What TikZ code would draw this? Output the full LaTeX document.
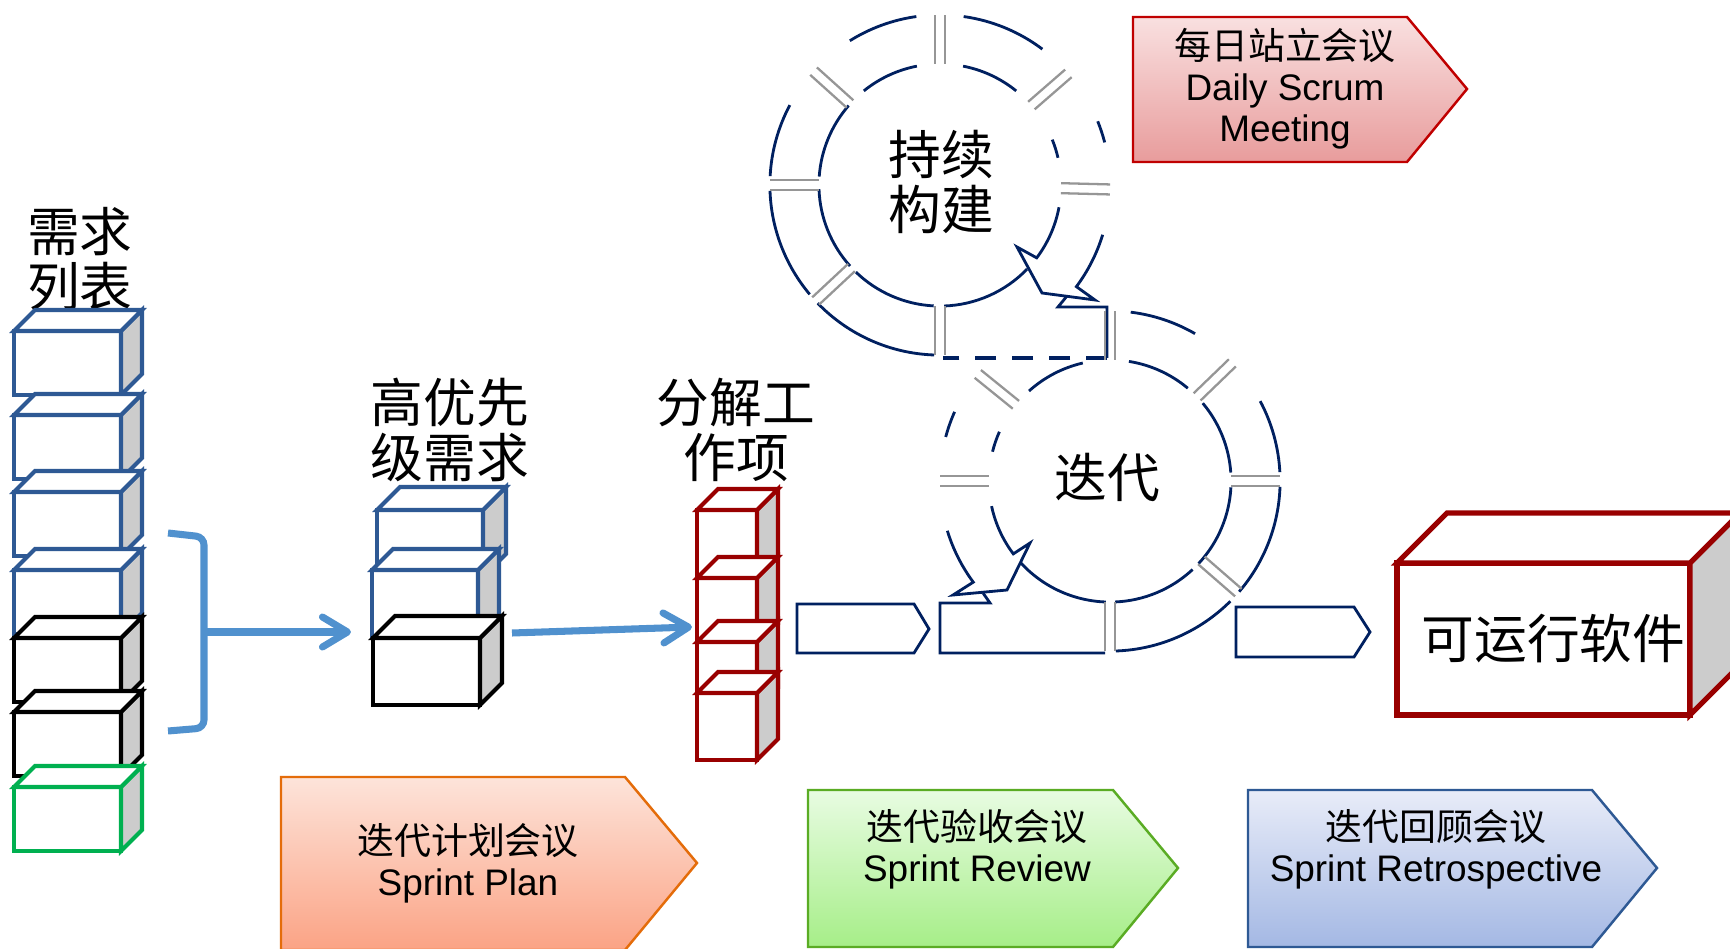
\documentclass[tikz,border=0pt]{standalone}
\usepackage{fontspec}
\setmainfont{Liberation Sans}
\newfontfamily\cjk{Noto Sans CJK SC}
\usetikzlibrary{arrows.meta, calc}

% barvy
\definecolor{namodra}{RGB}{0,32,96}
\definecolor{seda}{RGB}{150,150,150}
\definecolor{bok}{RGB}{204,204,204}
\definecolor{kvmodra}{RGB}{46,89,148}
\definecolor{kvzelena}{RGB}{0,176,80}
\definecolor{kvcervena}{RGB}{153,0,0}
\definecolor{sipkamodra}{RGB}{80,145,206}

% kvadr: jmeno, styl, roh, sirka, vyska, hloubka
\newcommand{\kvadr}[6]{%
  \node[celo, #2, minimum width=#4*0.01cm, minimum height=#5*0.01cm,
        anchor=north west] (#1) at #3 {};
  \draw[#2, fill=bok] (#1.north east) -- ++(#6,#6) -- ++(0,-#5)
        -- (#1.south east) -- cycle;
  \draw[#2, fill=white] (#1.north west) -- ++(#6,#6) -- ++(#4,0)
        -- (#1.north east) -- cycle;
}

% delici cara v kruhu: stred, uhel
\newcommand{\delic}[2]{%
  \draw[delka] (#1) ++(#2:1.21cm) ++(#2+90:0.05cm) -- ++(#2:0.49cm);
  \draw[delka] (#1) ++(#2:1.21cm) ++(#2-90:0.05cm) -- ++(#2:0.49cm);
}

\begin{document}
\begin{tikzpicture}[
    x=0.01cm, y=0.01cm,
    modry/.style={draw=kvmodra, line width=1.15pt},
    cerny/.style={draw=black, line width=1.15pt},
    zeleny/.style={draw=kvzelena, line width=1.15pt},
    cerveny/.style={draw=kvcervena, line width=1.15pt},
    velkycerveny/.style={draw=kvcervena, line width=1.45pt},
    celo/.style={rectangle, fill=white, inner sep=0pt, outer sep=0pt},
    popis/.style={font=\cjk\fontsize{15}{15.8}\selectfont,
                  align=center, inner sep=0pt},
    kruh/.style={draw=namodra, line width=0.8pt},
    delka/.style={draw=seda, line width=0.65pt},
    sipka/.style={draw=sipkamodra, line width=2pt,
                  -{Straight Barb[length=0.25cm, width=0.3cm, round]}},
    banner/.style={line width=0.7pt},
    bannertext/.style={font=\fontsize{10.5}{11.6}\selectfont,
                       align=center, inner sep=0pt},
]

\fill[white] (0,0) rectangle (1730,-949);
\useasboundingbox (0,0) rectangle (1730,-949);

% 需求列表
\node[popis] (xuqiu) at (80,-259) {需求\\列表};
\kvadr{xq1}{modry}{(14,-331)}{107}{64}{21}
\kvadr{xq2}{modry}{(14,-415)}{107}{64}{21}
\kvadr{xq3}{modry}{(14,-492)}{107}{64}{21}
\kvadr{xq4}{modry}{(14,-570)}{107}{64}{21}
\kvadr{xq5}{cerny}{(14,-638)}{107}{64}{21}
\kvadr{xq6}{cerny}{(14,-712)}{107}{64}{21}
\kvadr{xq7}{zeleny}{(14,-787)}{107}{64}{21}

% 高优先级需求
\node[popis] (youxian) at (450,-430) {高优先\\级需求};
\kvadr{yx1}{modry}{(377,-510)}{106}{67}{23}
\kvadr{yx2}{modry}{(372,-570)}{106}{67}{21}
\kvadr{yx3}{cerny}{(373,-638)}{107}{67}{22}

% 分解工作项
\node[popis] (fenjie) at (736,-430) {分解工\\作项};
\kvadr{fj1}{cerveny}{(697,-510)}{60}{67}{21}
\kvadr{fj2}{cerveny}{(697,-578)}{60}{67}{21}
\kvadr{fj3}{cerveny}{(697,-642)}{60}{67}{21}
\kvadr{fj4}{cerveny}{(697,-693)}{60}{67}{21}

% 可运行软件
\kvadr{ruanjian}{velkycerveny}{(1397,-563)}{293}{152}{50}
\node[popis] (ruanjiantext) at ([xshift=0.1cm]ruanjian.center) {可运行软件};

% zavorka a sipky
\draw[sipkamodra, line width=2pt, rounded corners=0.08cm]
    (168,-533) -- (204,-537) -- (204,-728) -- (168,-731);
\coordinate (zavorka) at (204,-632);
\draw[sipka, shorten >=0.21cm] (zavorka) -- (zavorka -| yx2.west);
\coordinate (odC) at (512,-633);
\coordinate (doR) at (692,-627);
\draw[sipka] (odC) -- (doR);

% 持续构建 kruh
\coordinate (U) at (940,-185);
\foreach \a/\b in {53/82, 98/122, 152/177, 182/220, 224/268, 14.5/22}
  \draw[kruh] (U) ++(\a:1.70cm) arc[start angle=\a, end angle=\b, radius=1.70cm];
\foreach \a/\b in {51/79, 101/129, 139/176, 182/222, 226/267, 13/22, -44/-88}
  \draw[kruh] (U) ++(\a:1.21cm) arc[start angle=\a, end angle=\b, radius=1.21cm];
\foreach \a in {90, 138, 180, 223, 270, -1.5, 41} {\delic{U}{\a}}
\draw[kruh] (U) ++(-17:1.70cm) arc[start angle=-17, end angle=-36.7, radius=1.70cm]
    -- (1095,-300) -- (1042,-293) -- (1017,-247) -- ($(U)+(-37:1.21cm)$)
    arc[start angle=-37, end angle=-10.6, radius=1.21cm];
\draw[kruh] (1067,-296) -- (1058,-307) -- (1107,-307) -- (1107,-358);
\draw[kruh, line width=1.1pt, dash pattern=on 6pt off 4.5pt] (1107,-358) -- (943,-358);
\node[popis] (chixu) at (941,-182) {持续\\构建};

% 迭代 kruh
\coordinate (L) at (1110,-481);
\foreach \a/\b in {60/83, 156/165, -88/-45, -40.6/-2, 3/28}
  \draw[kruh] (L) ++(\a:1.70cm) arc[start angle=\a, end angle=\b, radius=1.70cm];
\foreach \a/\b in {50/81, 103/132, 156/166, 222/268, -87.6/-47, -43/-3, 4/40}
  \draw[kruh] (L) ++(\a:1.21cm) arc[start angle=\a, end angle=\b, radius=1.21cm];
\foreach \a in {90, 141, 180, 44, 0, -41, -90} {\delic{L}{\a}}
\draw[kruh] (L) ++(197:1.70cm) arc[start angle=197, end angle=216.5, radius=1.70cm]
    -- (953,-595) -- (1007,-590) -- (1030,-543) -- ($(L)+(217:1.21cm)$)
    arc[start angle=217, end angle=192, radius=1.21cm];
\draw[kruh] (983,-593) -- (990,-603) -- (940,-603) -- (940,-653) -- (1105,-653);
\draw[kruh] (1107,-307) -- (1107,-358);
\node[popis] (diedai) at (1107,-478) {迭代};

% male sipky
\draw[kruh] (797,-604) -- (914,-604) -- (929,-629) -- (914,-653) -- (797,-653) -- cycle;
\draw[kruh] (1236,-607) -- (1354,-607) -- (1370,-632) -- (1354,-657) -- (1236,-657) -- cycle;

% porady
\draw[banner, draw={rgb,255:red,192;green,0;blue,0},
      top color={rgb,255:red,249;green,224;blue,224},
      bottom color={rgb,255:red,232;green,156;blue,156}]
    (1133,-17) -- (1407,-17) -- (1467,-89) -- (1407,-162) -- (1133,-162) -- cycle;
\node[bannertext] (zhanhui) at (1285,-89) {{\cjk 每日站立会议}\\Daily Scrum\\Meeting};

\draw[banner, draw={rgb,255:red,228;green,108;blue,10},
      top color={rgb,255:red,253;green,228;blue,218},
      bottom color={rgb,255:red,251;green,163;blue,133}]
    (281,-777) -- (625,-777) -- (697,-863) -- (625,-950) -- (281,-950) -- cycle;
\node[bannertext] (jihua) at (468,-863) {{\cjk 迭代计划会议}\\Sprint Plan};

\draw[banner, draw={rgb,255:red,90;green,172;blue,36},
      top color={rgb,255:red,232;green,252;blue,226},
      bottom color={rgb,255:red,166;green,238;blue,136}]
    (808,-790) -- (1113,-790) -- (1178,-868) -- (1113,-947) -- (808,-947) -- cycle;
\node[bannertext] (yanshou) at (977,-849) {{\cjk 迭代验收会议}\\Sprint Review};

\draw[banner, draw=kvmodra,
      top color={rgb,255:red,232;green,236;blue,248},
      bottom color={rgb,255:red,164;green,184;blue,228}]
    (1248,-790) -- (1592,-790) -- (1657,-868) -- (1592,-947) -- (1248,-947) -- cycle;
\node[bannertext] (huigu) at (1436,-849) {{\cjk 迭代回顾会议}\\Sprint Retrospective};

\end{tikzpicture}
\end{document}
